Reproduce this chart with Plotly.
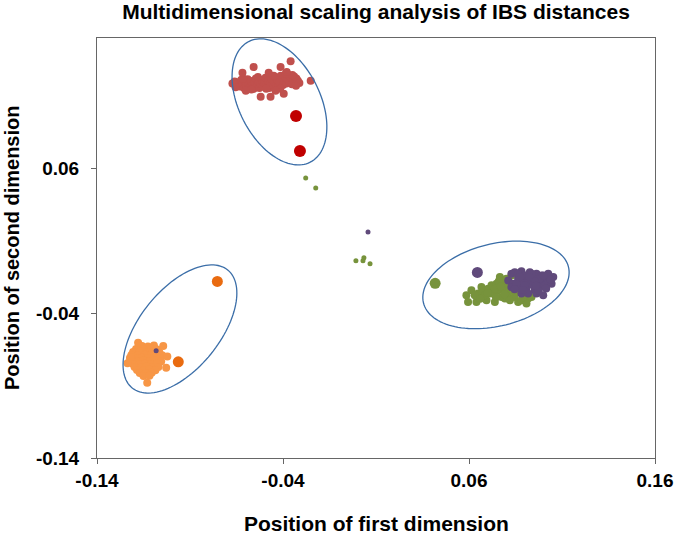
import math
import plotly.graph_objects as go

# ---------------- data (first dimension, second dimension) ----------------
red_cluster = [
    (-0.0672, 0.1185), (-0.0660, 0.1200), (-0.0650, 0.1175), (-0.0640, 0.1193), (-0.0632, 0.1165),
    (-0.0625, 0.1210), (-0.0618, 0.1183), (-0.0610, 0.1155), (-0.0605, 0.1197), (-0.0598, 0.1173),
    (-0.0590, 0.1215), (-0.0585, 0.1187), (-0.0578, 0.1160), (-0.0572, 0.1203), (-0.0565, 0.1177),
    (-0.0558, 0.1150), (-0.0552, 0.1193), (-0.0546, 0.1220), (-0.0540, 0.1170), (-0.0533, 0.1200),
    (-0.0527, 0.1155), (-0.0520, 0.1183), (-0.0514, 0.1210), (-0.0508, 0.1165), (-0.0500, 0.1190),
    (-0.0494, 0.1225), (-0.0488, 0.1175), (-0.0480, 0.1205), (-0.0474, 0.1155), (-0.0468, 0.1187),
    (-0.0460, 0.1215), (-0.0455, 0.1170), (-0.0448, 0.1200), (-0.0442, 0.1230), (-0.0436, 0.1180),
    (-0.0430, 0.1210), (-0.0424, 0.1165), (-0.0418, 0.1195), (-0.0412, 0.1240), (-0.0405, 0.1215),
    (-0.0400, 0.1175), (-0.0394, 0.1205), (-0.0388, 0.1230), (-0.0382, 0.1185), (-0.0376, 0.1215),
    (-0.0370, 0.1245), (-0.0364, 0.1195), (-0.0358, 0.1225), (-0.0352, 0.1180), (-0.0346, 0.1210),
    (-0.0340, 0.1235), (-0.0334, 0.1195), (-0.0328, 0.1220), (-0.0320, 0.1205), (-0.0312, 0.1190),
    (-0.0655, 0.1160), (-0.0615, 0.1220), (-0.0570, 0.1145), (-0.0535, 0.1230), (-0.0490, 0.1150),
    (-0.0450, 0.1240), (-0.0415, 0.1150), (-0.0385, 0.1255), (-0.0350, 0.1245), (-0.0330, 0.1170),
    (-0.0618, 0.1260), (-0.0558, 0.1300), (-0.0413, 0.1300), (-0.0359, 0.1340), (-0.0251, 0.1205),
    (-0.0520, 0.1095), (-0.0467, 0.1095), (-0.0396, 0.1115), (-0.0477, 0.1260), (-0.0600, 0.1135),
    (-0.0440, 0.1135), (-0.0380, 0.1265),
]
red_large = [(-0.0330, 0.0962), (-0.0309, 0.0720)]

orange_cluster = [
    (-0.1158, -0.0627), (-0.1126, -0.0630), (-0.1094, -0.0624),
    (-0.1190, -0.0647), (-0.1150, -0.0650), (-0.1110, -0.0645), (-0.1077, -0.0650),
    (-0.1206, -0.0668), (-0.1170, -0.0665), (-0.1134, -0.0670), (-0.1100, -0.0666), (-0.1065, -0.0670),
    (-0.1215, -0.0689), (-0.1180, -0.0692), (-0.1142, -0.0687), (-0.1110, -0.0690), (-0.1078, -0.0686), (-0.1050, -0.0690),
    (-0.1223, -0.0709), (-0.1190, -0.0712), (-0.1158, -0.0707), (-0.1126, -0.0711), (-0.1094, -0.0708), (-0.1061, -0.0712),
    (-0.1215, -0.0730), (-0.1182, -0.0733), (-0.1150, -0.0728), (-0.1118, -0.0732), (-0.1086, -0.0729), (-0.1055, -0.0733),
    (-0.1206, -0.0751), (-0.1174, -0.0754), (-0.1142, -0.0749), (-0.1110, -0.0753), (-0.1078, -0.0750),
    (-0.1198, -0.0772), (-0.1166, -0.0775), (-0.1134, -0.0770), (-0.1102, -0.0774), (-0.1070, -0.0771),
    (-0.1185, -0.0792), (-0.1150, -0.0795), (-0.1118, -0.0790), (-0.1086, -0.0794),
    (-0.1170, -0.0813), (-0.1138, -0.0816), (-0.1106, -0.0811),
    (-0.1150, -0.0834), (-0.1118, -0.0832),
    (-0.1179, -0.0605), (-0.1044, -0.0626), (-0.1022, -0.0700), (-0.1028, -0.0776),
    (-0.1130, -0.0880), (-0.1217, -0.0702), (-0.1236, -0.0745),
]
orange_large = [(-0.0753, -0.0181), (-0.0963, -0.0736)]

green_cluster = [
    (0.0586, -0.0277), (0.0595, -0.0322), (0.0613, -0.0242), (0.0640, -0.0322), (0.0649, -0.0265),
    (0.0667, -0.0220), (0.0676, -0.0254), (0.0694, -0.0311), (0.0703, -0.0231), (0.0721, -0.0208),
    (0.0730, -0.0265), (0.0739, -0.0322), (0.0748, -0.0197), (0.0757, -0.0242), (0.0766, -0.0151),
    (0.0775, -0.0288), (0.0784, -0.0197), (0.0793, -0.0242), (0.0801, -0.0162), (0.0810, -0.0277),
    (0.0828, -0.0140), (0.0846, -0.0288), (0.0864, -0.0322), (0.0882, -0.0311), (0.0900, -0.0265),
    (0.0918, -0.0299), (0.0936, -0.0288), (0.0909, -0.0334), (0.0712, -0.0265), (0.0739, -0.0231),
    (0.0775, -0.0231), (0.0685, -0.0277), (0.0631, -0.0277), (0.0793, -0.0299), (0.0828, -0.0242),
    (0.0760, -0.0180), (0.0790, -0.0270), (0.0815, -0.0200), (0.0745, -0.0290), (0.0770, -0.0215),
    (0.0700, -0.0260), (0.0660, -0.0300), (0.0850, -0.0250), (0.0890, -0.0290), (0.0820, -0.0310),
]
green_large = [(0.0418, -0.0194)]
green_scattered = [
    (-0.0278, 0.0534), (-0.0224, 0.0465), (-0.0008, -0.0038), (0.0035, -0.0017),
    (0.0030, -0.0038), (0.0068, -0.0058),
]

purple_cluster = [
    (0.0811, -0.0174), (0.0828, -0.0128), (0.0838, -0.0197), (0.0846, -0.0117), (0.0864, -0.0162),
    (0.0874, -0.0220), (0.0882, -0.0110), (0.0891, -0.0185), (0.0900, -0.0140), (0.0909, -0.0231),
    (0.0918, -0.0174), (0.0927, -0.0117), (0.0936, -0.0197), (0.0945, -0.0151), (0.0954, -0.0242),
    (0.0963, -0.0128), (0.0972, -0.0185), (0.0981, -0.0220), (0.0990, -0.0140), (0.0999, -0.0174),
    (0.1008, -0.0208), (0.1017, -0.0151), (0.1026, -0.0185), (0.1035, -0.0162), (0.1044, -0.0197),
    (0.1053, -0.0151), (0.0999, -0.0277), (0.0963, -0.0265), (0.0882, -0.0265), (0.0828, -0.0220),
    (0.0918, -0.0265), (0.0936, -0.0128), (0.0900, -0.0208), (0.0855, -0.0197), (0.1026, -0.0128),
    (0.0981, -0.0162), (0.0945, -0.0208), (0.0864, -0.0128),
    (0.0872, -0.0150), (0.0890, -0.0240), (0.0925, -0.0150), (0.0955, -0.0180), (0.0975, -0.0245),
    (0.1000, -0.0140), (0.1040, -0.0170), (0.0845, -0.0235), (0.0960, -0.0210), (0.1015, -0.0230),
]
purple_single = [(-0.1082, -0.0660), (0.0057, 0.0160)]
purple_large = [(0.0645, -0.0119)]

x_ticks = [-0.14, -0.04, 0.06, 0.16]
y_ticks = [-0.14, -0.04, 0.06]
x_range = [-0.14, 0.16]
y_range = [-0.14, 0.15]

# ellipses: centre (data), semi-axes (px), rotation (deg, counter-clockwise from +x)
ellipses = [
    dict(cx=-0.0419, cy=0.1059, a=67.7, b=40.5, ang=117.0),
    dict(cx=-0.0954, cy=-0.0509, a=75.9, b=39.8, ang=51.0),
    dict(cx=0.0745, cy=-0.0205, a=74.7, b=41.1, ang=14.0),
]

# ---------------- styling ----------------
PLOT_W = 558.0
PLOT_H = 420.0
px_per_x = PLOT_W / (x_range[1] - x_range[0])
px_per_y = PLOT_H / (y_range[1] - y_range[0])

RED = "#C0504D"
RED_DARK = "#C00000"
ORANGE = "#F79646"
ORANGE_DARK = "#E96B10"
GREEN = "#77933C"
PURPLE = "#604A7B"
FONT = "Arial, Liberation Sans, sans-serif"


def unzip(pts):
    return [p[0] for p in pts], [p[1] for p in pts]


fig = go.Figure()


def add(pts, color, size):
    xs, ys = unzip(pts)
    fig.add_trace(go.Scatter(x=xs, y=ys, mode="markers",
                             marker=dict(color=color, size=size, line=dict(width=0)),
                             showlegend=False, hoverinfo="x+y"))


add(red_cluster, RED, 8)
add(red_large, RED_DARK, 12)
add(orange_cluster, ORANGE, 8)
add(orange_large, ORANGE_DARK, 11)
add(green_cluster, GREEN, 8)
add(green_scattered, GREEN, 5)
add(green_large, GREEN, 11)
add(purple_cluster, PURPLE, 8)
add(purple_single, PURPLE, 5)
add(purple_large, PURPLE, 11)

shapes = []
for e in ellipses:
    th = math.radians(e["ang"])
    pts = []
    for i in range(121):
        t = 2 * math.pi * i / 120
        u = e["a"] * math.cos(t)
        v = e["b"] * math.sin(t)
        dx = u * math.cos(th) - v * math.sin(th)
        dy = u * math.sin(th) + v * math.cos(th)
        pts.append((e["cx"] + dx / px_per_x, e["cy"] + dy / px_per_y))
    path = "M " + " L ".join(f"{x:.5f},{y:.5f}" for x, y in pts) + " Z"
    shapes.append(dict(type="path", path=path, xref="x", yref="y",
                       line=dict(color="#3B6EA8", width=1.3), layer="above"))

axis_common = dict(showgrid=False, zeroline=False, showline=True, mirror=True,
                   linecolor="#666666", linewidth=1, ticks="outside", ticklen=5,
                   tickcolor="#666666", automargin=False,
                   tickfont=dict(family=FONT, size=19, color="#000000", weight="bold"))

fig.update_layout(
    width=675, height=537,
    margin=dict(l=97, r=20, t=38, b=79, autoexpand=False),
    paper_bgcolor="white", plot_bgcolor="white",
    title=dict(text="Multidimensional scaling analysis of IBS distances",
               font=dict(family=FONT, size=21, color="#000000", weight="bold"),
               x=0.5, xanchor="center", y=1 - 12 / 537, yanchor="middle",
               xref="paper", yref="container"),
    xaxis=dict(range=x_range, tickvals=x_ticks, ticktext=[f"{v:.2f}" for v in x_ticks],
               ticklabelstandoff=0, **axis_common),
    yaxis=dict(range=y_range, tickvals=y_ticks, ticktext=[f"{v:.2f}" for v in y_ticks],
               ticklabelstandoff=8, **axis_common),
    shapes=shapes,
    annotations=[
        dict(text="Position of first dimension", xref="paper", yref="paper",
             x=0.5, y=-(523 - 458) / PLOT_H, xanchor="center", yanchor="middle",
             showarrow=False,
             font=dict(family=FONT, size=21, color="#000000", weight="bold")),
        dict(text="Position of second dimension", xref="paper", yref="paper",
             x=(12 - 97) / PLOT_W, y=(458 - 248) / PLOT_H, xanchor="center", yanchor="middle",
             textangle=-90, showarrow=False,
             font=dict(family=FONT, size=20, color="#000000", weight="bold")),
    ],
)

fig.write_html("out.html", config={"displayModeBar": False},
               post_script="document.body.style.margin='0px';")
